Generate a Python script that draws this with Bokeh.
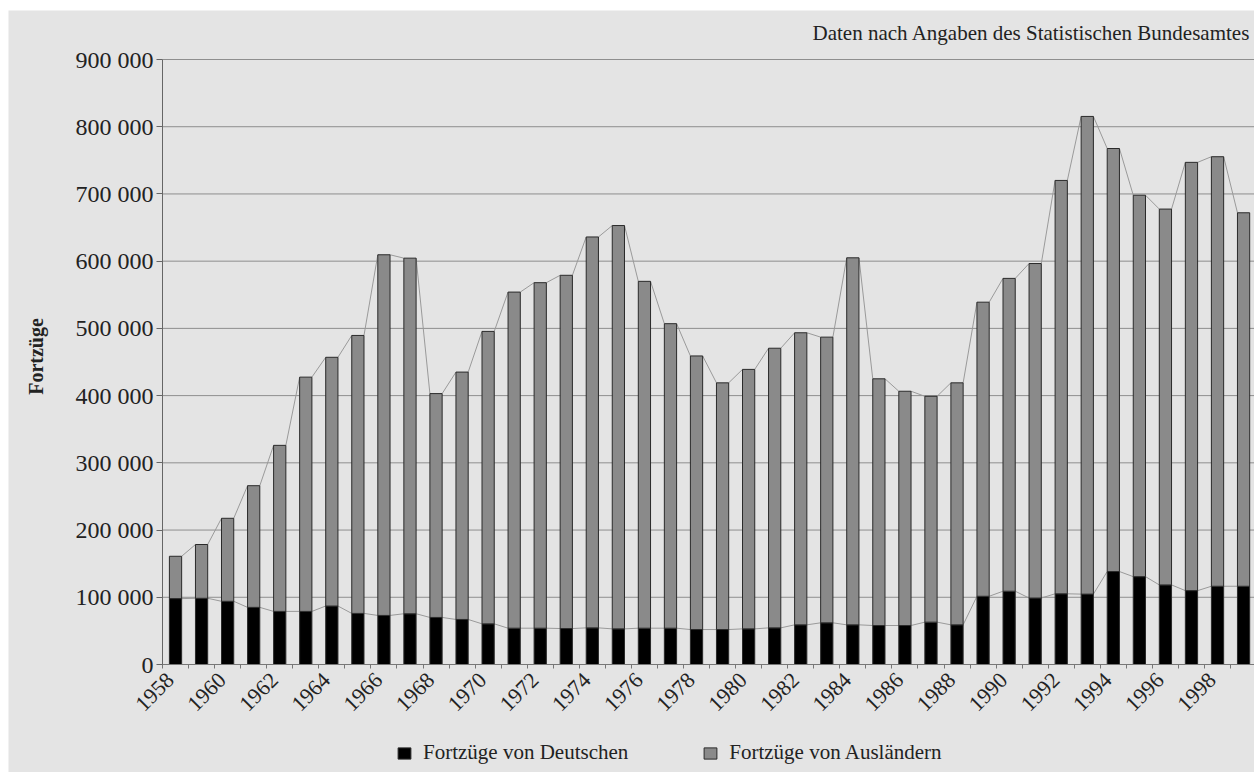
import math
from bokeh.plotting import figure
from bokeh.models import (ColumnDataSource, FixedTicker, Legend, LegendItem, Range1d, Label,
                          BoxAnnotation)
from bokeh.embed import file_html
from bokeh.resources import INLINE

years = list(range(1958, 2000))
deutsche = [98000, 98500, 94000, 85000, 79000, 79000, 87000, 76000, 73000, 75500,
            70000, 67000, 60500, 54000, 54000, 53500, 54500, 53000, 54000, 54000,
            52000, 52000, 53000, 54500, 59000, 62000, 59000, 58000, 58000, 63000,
            59000, 101500, 109000, 98900, 105200, 104700, 138300, 130700, 118400, 109900,
            116400, 116400]
auslaender = [63000, 80000, 123500, 181000, 247000, 348500, 370000, 413500, 536500, 529000,
              333000, 368000, 435000, 500000, 514000, 525500, 581500, 600000, 516000, 453000,
              407000, 367000, 386000, 416000, 434500, 425000, 546000, 367000, 348500, 336000,
              360000, 437500, 465400, 497600, 614900, 710600, 629300, 567400, 559100, 637100,
              639000, 555600]
y_ticks = [0, 100000, 200000, 300000, 400000, 500000, 600000, 700000, 800000, 900000]
x_label_years = list(range(1958, 1999, 2))
title_text = "Daten nach Angaben des Statistischen Bundesamtes"
y_title = "Fortzüge"
legend_labels = ["Fortzüge von Deutschen", "Fortzüge von Ausländern"]

BG = "#e4e4e4"
FONT = "Liberation Serif"
TXT = "#222222"
BAR_W = 0.47
LABEL_SHIFT = 0.2   # shift of year labels to the left (in years)

# layout geometry (pixels)
W, H = 1254, 772
TOP, LEFT = 59, 162
ZERO_PX = 664
PX_PER_YEAR = 26.05
Y_MAX = 900000
X0 = years[0] - 0.5
y_lo = -Y_MAX * (H - ZERO_PX) / (ZERO_PX - TOP)
y_hi = Y_MAX * ZERO_PX / (ZERO_PX - TOP)
x_lo = X0 - LEFT / PX_PER_YEAR
x_hi = X0 + (W - LEFT) / PX_PER_YEAR

totals = [d + a for d, a in zip(deutsche, auslaender)]
src = ColumnDataSource(dict(year=years, deutsche=deutsche, auslaender=auslaender))

p = figure(width=W, height=H, output_backend="svg", toolbar_location=None,
           x_range=Range1d(x_lo, x_hi), y_range=Range1d(y_lo, y_hi),
           min_border_left=0, min_border_top=0, min_border_bottom=0, min_border_right=0)
p.background_fill_color = "white"
p.border_fill_color = "white"
p.outline_line_color = None
p.title.visible = False

# grey page area (white strip at top and left like the scanned original)
p.add_layout(BoxAnnotation(left=8, right=W, bottom=0, top=H - 10,
                           left_units="screen", right_units="screen",
                           bottom_units="screen", top_units="screen",
                           fill_color=BG, fill_alpha=1, line_color=None, level="underlay"))

p.add_layout(Label(x=W - 4, y=H - 32, x_units="screen", y_units="screen", text=title_text,
                   text_align="right", text_baseline="middle",
                   text_font=FONT, text_font_size="21px", text_color=TXT))

# grid (horizontal lines from the y axis to the right edge)
p.xgrid.visible = False
p.ygrid.visible = False
p.segment(x0=[X0] * len(y_ticks), x1=[x_hi] * len(y_ticks), y0=y_ticks, y1=y_ticks,
          line_color="#8e8e8e", line_width=1)

# y axis (drawn at the first category boundary)
ya = p.yaxis[0]
ya.fixed_location = X0
ya.ticker = FixedTicker(ticks=y_ticks)
ya.bounds = (0, Y_MAX)
ya.major_label_overrides = {v: f"{v:,}".replace(",", " ") for v in y_ticks}
ya.major_label_text_font = FONT
ya.major_label_text_font_size = "24px"
ya.major_label_text_color = TXT
ya.axis_line_color = "#666666"
ya.major_tick_line_color = "#666666"
ya.major_tick_out = 6
ya.major_tick_in = 0
ya.minor_tick_line_color = None
ya.major_label_standoff = 3

p.add_layout(Label(x=35, y=H - 356, x_units="screen", y_units="screen", text=y_title,
                   angle=math.pi / 2, text_align="center", text_baseline="middle",
                   text_font=FONT, text_font_size="20px", text_font_style="bold",
                   text_color=TXT))

# x axis (drawn at y = 0)
xa = p.xaxis[0]
xa.fixed_location = 0
xa.bounds = (X0, x_hi)
label_pos = [y - LABEL_SHIFT for y in x_label_years]
boundaries = [y + 0.5 for y in [years[0] - 1] + years]
xa.ticker = FixedTicker(ticks=label_pos, minor_ticks=boundaries)
xa.major_label_overrides = {pos: str(y) for pos, y in zip(label_pos, x_label_years)}
xa.major_label_orientation = math.pi / 4
xa.major_label_text_font = FONT
xa.major_label_text_font_size = "22px"
xa.major_label_text_color = TXT
xa.axis_line_color = "#777777"
xa.major_tick_line_color = None
xa.minor_tick_line_color = "#777777"
xa.minor_tick_out = 4
xa.minor_tick_in = 0
xa.major_label_standoff = 6

# series lines (connect bar top corners)
def series_lines(vals):
    x0 = [years[i] + BAR_W / 2 for i in range(len(years) - 1)]
    x1 = [years[i + 1] - BAR_W / 2 for i in range(len(years) - 1)]
    y0 = vals[:-1]
    y1 = vals[1:]
    p.segment(x0=x0, y0=y0, x1=x1, y1=y1, line_color="#9a9a9a", line_width=1)

series_lines(totals)
series_lines(deutsche)

rs = p.vbar_stack(["deutsche", "auslaender"], x="year", width=BAR_W, source=src,
                  fill_color=["#000000", "#8a8a8a"], line_color="#2a2a2a", line_width=1)

legend = Legend(items=[LegendItem(label=legend_labels[0], renderers=[rs[0]]),
                       LegendItem(label=legend_labels[1], renderers=[rs[1]])],
                orientation="horizontal", location=(396, 7))
legend.background_fill_alpha = 0
legend.border_line_color = None
legend.padding = 0
legend.margin = 0
legend.spacing = 74
legend.glyph_width = 16
legend.glyph_height = 14
legend.label_standoff = 11
legend.label_text_font = FONT
legend.label_text_font_size = "21px"
legend.label_text_color = TXT
p.add_layout(legend, "center")

open("out.html", "w").write(file_html(p, INLINE))
